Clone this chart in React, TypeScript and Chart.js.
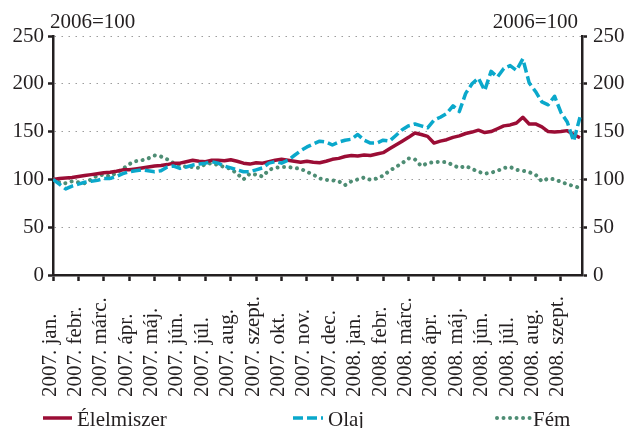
import React, { useEffect, useRef } from "react";
import { Chart, registerables } from "chart.js";

Chart.register(...registerables);

const monthLabels = [
  "2007. jan.", "2007. febr.", "2007. márc.", "2007. ápr.", "2007. máj.", "2007. jún.",
  "2007. júl.", "2007. aug.", "2007. szept.", "2007. okt.", "2007. nov.", "2007. dec.",
  "2008. jan.", "2008. febr.", "2008. márc.", "2008. ápr.", "2008. máj.", "2008. jún.",
  "2008. júl.", "2008. aug.", "2008. szept.",
];

const seriesNames = ["Élelmiszer", "Olaj", "Fém"];
const baseLabel = "2006=100";

// weekly observations (4 per month), Jan 2007 – late Sept 2008
const food = [
  100, 101, 101.5, 102, 103, 104, 105, 106, 107, 107.5, 108.5, 110,
  110, 111, 112, 113, 114, 114.5, 115.5, 117, 117, 118.5, 120, 119,
  118.5, 120, 120, 119.5, 120.5, 119, 117, 116, 117.5, 117, 118.5, 120,
  121, 120, 119, 118, 119, 118, 117.5, 119, 121, 122, 124, 125,
  124.5, 125.5, 125, 126.5, 128, 132, 136, 140, 144, 148.5, 147, 145,
  138, 140, 141.5, 144, 145.5, 148, 149.5, 151.5, 149, 150, 153, 156,
  157, 159, 165, 158, 158, 155, 150, 149.5, 150, 151, 147, 143.5,
];

const oil = [
  100, 95, 90, 93, 95, 97, 98, 99, 101, 101, 103, 106,
  108, 109, 110, 109, 108, 109, 113, 114, 111.5, 113, 115, 116,
  117, 118.5, 117, 114, 112, 110, 108, 108, 110, 112, 117, 118.5,
  117, 120, 125, 130, 134, 137, 140, 139, 136, 139, 141, 142,
  147, 141, 138, 138, 141, 140, 146, 152, 156, 158, 156, 154,
  162, 165, 169, 177, 171, 190, 200, 206, 193, 213, 207, 216,
  219, 214, 226, 201, 192, 181, 178, 187, 170, 160, 140, 165,
];

const metal = [
  100, 97, 96, 98, 97, 96, 100, 104, 105, 103, 107, 111,
  116, 119, 120, 122, 125, 124, 121, 117, 115, 113, 113, 112,
  116, 117, 115, 113, 111, 106, 100, 106, 105, 103, 110, 112,
  113, 113, 112, 111, 108, 105, 101, 99.5, 99, 98, 94, 98,
  100, 102, 99.5, 101, 104, 109, 113, 117, 122, 121, 114, 117,
  118, 118.5, 118, 115, 112, 114, 111, 108, 106, 107, 109, 112,
  113, 110, 109, 107.5, 105, 98, 101, 100, 97.5, 95, 93, 91,
];

const INK = "#231f20";
const FONT = '"Liberation Serif", "Times New Roman", serif';
const RED = "#9b0d35";
const CYAN = "#0aa8cb";
const GREEN = "#4e8d74";

const styles = [
  { color: RED, dash: [] as number[], cap: "butt" as CanvasLineCap, width: 3.5 },
  { color: CYAN, dash: [10, 4], cap: "butt" as CanvasLineCap, width: 3.5 },
  { color: GREEN, dash: [0.01, 6.5], cap: "round" as CanvasLineCap, width: 4 },
];

const overlayPlugin = {
  id: "overlay",
  afterDraw(chart: any) {
    const ctx = chart.ctx as CanvasRenderingContext2D;
    const xs = chart.scales.x;
    const area = chart.chartArea;
    ctx.save();
    ctx.fillStyle = INK;
    ctx.font = `21px ${FONT}`;
    // base year notes
    ctx.textBaseline = "alphabetic";
    ctx.textAlign = "left";
    ctx.fillText(baseLabel, area.left - 3, 28);
    ctx.textAlign = "right";
    ctx.fillText(baseLabel, area.right - 4, 28);
    // rotated month labels
    ctx.textAlign = "left";
    monthLabels.forEach((lab, k) => {
      const x = xs.getPixelForValue(k) + 2.5;
      ctx.save();
      ctx.translate(x, 397);
      ctx.rotate(-Math.PI / 2);
      ctx.fillText(lab, 0, 0);
      ctx.restore();
    });
    // legend
    const legendX = [
      [43, 72, 77],
      [293, 323, 328],
      [497, 530, 533],
    ];
    const ly = 418;
    seriesNames.forEach((name, i) => {
      const st = styles[i];
      const [x0, x1, tx] = legendX[i];
      ctx.save();
      ctx.strokeStyle = st.color;
      ctx.lineWidth = st.width;
      ctx.lineCap = st.cap;
      ctx.setLineDash(st.dash);
      ctx.beginPath();
      ctx.moveTo(x0, ly);
      ctx.lineTo(x1, ly);
      ctx.stroke();
      ctx.restore();
      ctx.textAlign = "left";
      ctx.textBaseline = "alphabetic";
      ctx.fillText(name, tx, 426);
    });
    ctx.restore();
  },
};

export default function App() {
  const ref = useRef<HTMLCanvasElement | null>(null);

  useEffect(() => {
    if (!ref.current) return;
    const pos = food.map((_, i) => i / 4);
    const series = [food, oil, metal];
    const chart = new Chart(ref.current, {
      type: "line",
      data: {
        datasets: series.map((vals, i) => ({
          label: seriesNames[i],
          data: vals.map((v, j) => ({ x: pos[j], y: v })),
          borderColor: styles[i].color,
          borderWidth: styles[i].width,
          borderDash: styles[i].dash,
          borderCapStyle: styles[i].cap,
          borderJoinStyle: "round",
          pointRadius: 0,
          tension: 0,
          fill: false,
          order: i === 1 ? 0 : i === 0 ? 1 : 2,
        })),
      },
      options: {
        responsive: true,
        maintainAspectRatio: false,
        animation: false,
        layout: { padding: { top: 36, left: 0, right: 0, bottom: 0 } },
        plugins: { legend: { display: false }, tooltip: { enabled: false } },
        scales: {
          x: {
            type: "linear",
            min: 0,
            max: 20.83,
            afterBuildTicks: (s: any) => {
              s.ticks = monthLabels.map((_, i) => ({ value: i }));
            },
            ticks: { display: false },
            grid: {
              drawOnChartArea: false,
              drawTicks: true,
              tickLength: 6,
              tickWidth: 2.5,
              tickColor: INK,
            },
            border: { color: INK, width: 2.5 },
            afterFit: (s: any) => {
              s.height = 153;
            },
          },
          y: {
            position: "left",
            min: 0,
            max: 250,
            ticks: { stepSize: 50, color: INK, font: { family: FONT, size: 21 }, padding: 4 },
            grid: {
              color: (c: any) => (c.tick && c.tick.value === 0 ? "rgba(0,0,0,0)" : "#9d9d9d"),
              lineWidth: 1,
              tickLength: 5,
              tickWidth: 2.5,
              tickColor: INK,
              tickBorderDash: [],
            },
            border: { color: INK, width: 2.5, dash: [1.5, 5.5] },
            afterFit: (s: any) => {
              s.width = 53;
            },
          },
          y2: {
            position: "right",
            min: 0,
            max: 250,
            ticks: { stepSize: 50, color: INK, font: { family: FONT, size: 21 }, padding: 6 },
            grid: {
              drawOnChartArea: false,
              tickLength: 5,
              tickWidth: 2.5,
              tickColor: INK,
            },
            border: { color: INK, width: 2.5 },
            afterFit: (s: any) => {
              s.width = 48;
            },
          },
        },
      },
      plugins: [overlayPlugin],
    });
    return () => chart.destroy();
  }, []);

  return (
    <div style={{ position: "fixed", left: 0, top: 0, width: 630, height: 428, background: "#fff" }}>
      <canvas ref={ref} />
    </div>
  );
}
